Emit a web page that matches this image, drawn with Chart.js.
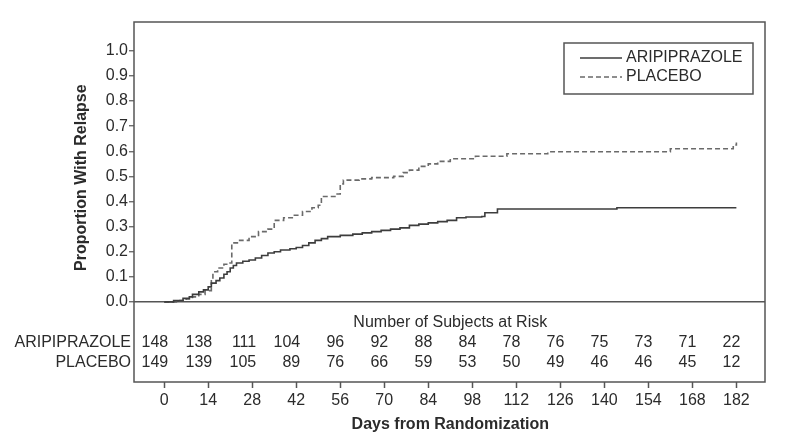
<!DOCTYPE html>
<html>
<head>
<meta charset="utf-8">
<script src="https://cdn.jsdelivr.net/npm/chart.js@4.4.1/dist/chart.umd.min.js"></script>
<style>
  html, body { margin: 0; padding: 0; background: #fff; }
  #wrap { width: 787px; height: 447px; }
</style>
</head>
<body>
<div id="wrap"><canvas id="km"></canvas></div>
<script>
const xTicks = [0, 14, 28, 42, 56, 70, 84, 98, 112, 126, 140, 154, 168, 182];
const yTicks = [0, 0.1, 0.2, 0.3, 0.4, 0.5, 0.6, 0.7, 0.8, 0.9, 1.0];

// Kaplan-Meier steps (day, cumulative proportion)
const aripDays = [0, 3, 6, 8, 9, 11, 12.5, 14, 15, 16.5, 17.7, 19, 20, 21, 22, 23, 25, 27, 29, 31, 33, 35, 37, 40, 42, 44, 46, 48, 50, 52, 56, 60, 63, 66, 69, 72, 75, 78, 81, 84, 87, 90, 93, 96, 101, 102, 106, 144, 182];
const aripValues = [0, 0.005, 0.014, 0.02, 0.03, 0.04, 0.048, 0.06, 0.075, 0.085, 0.095, 0.11, 0.12, 0.135, 0.145, 0.155, 0.162, 0.167, 0.175, 0.185, 0.195, 0.2, 0.207, 0.212, 0.217, 0.225, 0.235, 0.245, 0.252, 0.26, 0.265, 0.27, 0.275, 0.28, 0.285, 0.29, 0.295, 0.305, 0.31, 0.315, 0.32, 0.325, 0.335, 0.338, 0.34, 0.355, 0.37, 0.375, 0.375];

const placeboDays = [0, 5, 7, 9, 11, 13, 15, 15.5, 17, 19, 20.5, 21.5, 24, 27, 30, 33, 35, 38, 41, 44, 47, 49, 50, 55, 56, 57, 62, 66, 73, 76, 78, 81, 84, 87, 91, 99, 109, 122, 161, 181, 182];
const placeboValues = [0, 0.005, 0.012, 0.02, 0.03, 0.045, 0.09, 0.12, 0.135, 0.15, 0.155, 0.235, 0.245, 0.26, 0.28, 0.29, 0.325, 0.335, 0.345, 0.36, 0.375, 0.385, 0.42, 0.43, 0.47, 0.485, 0.49, 0.495, 0.5, 0.515, 0.525, 0.54, 0.55, 0.56, 0.57, 0.58, 0.59, 0.598, 0.61, 0.625, 0.635];

const aripRisk = [148, 138, 111, 104, 96, 92, 88, 84, 78, 76, 75, 73, 71, 22];
const placeboRisk = [149, 139, 105, 89, 76, 66, 59, 53, 50, 49, 46, 46, 45, 12];

const FONT = '"Liberation Sans", Arial, sans-serif';
const TEXT = '#2b2b2b';
const LINE = '#555';

function toPoints(xs, ys) {
  return xs.map((x, i) => ({ x, y: ys[i] }));
}

const framePlugin = {
  id: 'frame',
  afterDraw(chart) {
    const { ctx, chartArea: a, scales: { x, y } } = chart;
    ctx.save();

    // box around plot + risk table
    ctx.strokeStyle = LINE;
    ctx.lineWidth = 1.5;
    ctx.strokeRect(a.left, a.top, a.right - a.left, a.bottom - a.top);

    // legend
    const lx = 564, ly = 43, lw = 189, lh = 51;
    ctx.fillStyle = '#fff';
    ctx.fillRect(lx, ly, lw, lh);
    ctx.strokeRect(lx, ly, lw, lh);
    ctx.font = '16px ' + FONT;
    ctx.textBaseline = 'middle';
    ctx.textAlign = 'left';
    chart.data.datasets.forEach((ds, i) => {
      const yy = 58 + i * 19;
      ctx.strokeStyle = ds.borderColor;
      ctx.lineWidth = ds.borderWidth;
      ctx.setLineDash(ds.borderDash || []);
      ctx.beginPath();
      ctx.moveTo(580, yy);
      ctx.lineTo(622, yy);
      ctx.stroke();
      ctx.setLineDash([]);
      ctx.fillStyle = TEXT;
      ctx.fillText(ds.label, 626, yy);
    });

    // number at risk table
    ctx.fillStyle = TEXT;
    ctx.font = '16px ' + FONT;
    ctx.textAlign = 'center';
    ctx.fillText('Number of Subjects at Risk', x.getPixelForValue(91), 323);
    ctx.textAlign = 'right';
    ctx.fillText('ARIPIPRAZOLE', a.left - 3, 343);
    ctx.fillText('PLACEBO', a.left - 3, 363);
    xTicks.forEach((d, i) => {
      const px = x.getPixelForValue(d) + 4;
      ctx.fillText(String(aripRisk[i]), px, 343);
      ctx.fillText(String(placeboRisk[i]), px, 363);
    });

    // axis titles
    ctx.font = 'bold 16px ' + FONT;
    ctx.textAlign = 'center';
    ctx.fillText('Days from Randomization', x.getPixelForValue(91), 425);
    ctx.translate(82, y.getPixelForValue(0.495));
    ctx.rotate(-Math.PI / 2);
    ctx.fillText('Proportion With Relapse', 0, 0);
    ctx.restore();
  }
};

new Chart(document.getElementById('km'), {
  type: 'line',
  data: {
    datasets: [
      {
        label: 'ARIPIPRAZOLE',
        data: toPoints(aripDays, aripValues),
        borderColor: '#3d3d3d',
        borderWidth: 1.6,
        stepped: true,
        pointRadius: 0,
        fill: false
      },
      {
        label: 'PLACEBO',
        data: toPoints(placeboDays, placeboValues),
        borderColor: '#6a6a6a',
        borderWidth: 1.6,
        borderDash: [5, 3],
        stepped: true,
        pointRadius: 0,
        fill: false
      }
    ]
  },
  options: {
    responsive: true,
    maintainAspectRatio: false,
    animation: false,
    layout: { padding: { top: 22, right: 22, left: 0, bottom: 0 } },
    plugins: { legend: { display: false }, tooltip: { enabled: false } },
    scales: {
      x: {
        type: 'linear',
        min: -9.6,
        max: 191.1,
        afterBuildTicks: (s) => { s.ticks = xTicks.map(v => ({ value: v })); },
        afterFit: (s) => { s.height = 65; },
        ticks: { color: TEXT, font: { family: FONT, size: 16 }, padding: 3, autoSkip: false, maxRotation: 0 },
        grid: { drawOnChartArea: false, tickLength: 6, tickColor: LINE, tickWidth: 1.5 },
        border: { display: false }
      },
      y: {
        min: -0.319,
        max: 1.115,
        afterBuildTicks: (s) => { s.ticks = yTicks.map(v => ({ value: v })); },
        afterFit: (s) => { s.width = 134; },
        ticks: {
          color: TEXT,
          font: { family: FONT, size: 16 },
          padding: 1,
          callback: (v) => Number(v).toFixed(1)
        },
        grid: {
          color: (c) => (c.tick && c.tick.value === 0 ? LINE : 'transparent'),
          lineWidth: 1.5,
          tickLength: 5,
          tickColor: LINE,
          tickWidth: 1.2
        },
        border: { display: false }
      }
    }
  },
  plugins: [framePlugin]
});
</script>
</body>
</html>
